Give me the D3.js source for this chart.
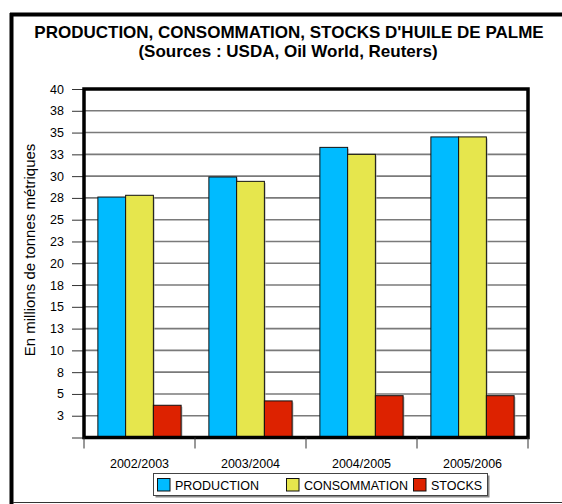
<!DOCTYPE html>
<html>
<head>
<meta charset="utf-8">
<script src="https://cdn.jsdelivr.net/npm/d3@7"></script>
<style>
  html, body { margin: 0; padding: 0; background: #fff; }
  svg { display: block; font-family: "Liberation Sans", Arial, sans-serif; }
</style>
</head>
<body>
<svg id="chart" width="562" height="504"></svg>
<script>
// Palm oil balance by campaign (million metric tonnes)
const campaigns = ["2002/2003", "2003/2004", "2004/2005", "2005/2006"];
const seriesNames = ["PRODUCTION", "CONSOMMATION", "STOCKS"];
const production = [27.6, 29.9, 33.3, 34.5];
const consommation = [27.8, 29.4, 32.5, 34.5];
const stocks = [3.7, 4.2, 4.8, 4.8];
const yTickValues = [0, 2.5, 5, 7.5, 10, 12.5, 15, 17.5, 20, 22.5, 25, 27.5, 30, 32.5, 35, 37.5, 40];
const yTickLabels = ["", "3", "5", "8", "10", "13", "15", "18", "20", "23", "25", "28", "30", "33", "35", "38", "40"];
const colors = ["#00BBFF", "#E6E64D", "#DD2200"];

const seriesValues = [production, consommation, stocks];

const svg = d3.select("#chart");
const plot = { left: 84, right: 528, top: 89, bottom: 437.5 };

// Outer frame
svg.append("line").attr("x1", 11.5).attr("x2", 11.5).attr("y1", 13).attr("y2", 504)
  .attr("stroke", "#000").attr("stroke-width", 4);
svg.append("line").attr("x1", 10).attr("x2", 562).attr("y1", 14.5).attr("y2", 14.5)
  .attr("stroke", "#000").attr("stroke-width", 4);
svg.append("line").attr("x1", 13).attr("x2", 562).attr("y1", 502.5).attr("y2", 502.5)
  .attr("stroke", "#333").attr("stroke-width", 1);

// Title
const title = svg.append("text").attr("text-anchor", "middle")
  .attr("font-weight", "bold").attr("font-size", 17).attr("fill", "#000");
title.append("tspan").attr("x", 289).attr("y", 38).text("PRODUCTION, CONSOMMATION, STOCKS D'HUILE DE PALME");
title.append("tspan").attr("x", 288).attr("y", 57).text("(Sources : USDA, Oil World, Reuters)");

// Scales
const y = d3.scaleLinear().domain([0, 40]).range([plot.bottom, plot.top]);
const x = d3.scaleBand().domain(campaigns).range([plot.left, plot.right])
  .paddingInner(0.25).paddingOuter(0.125);
const xs = d3.scaleBand().domain(seriesNames).range([0, x.bandwidth()]).padding(0);

// Gridlines
svg.append("g").selectAll("line").data(yTickValues.filter(v => v > 0 && v < 40))
  .join("line")
  .attr("x1", plot.left).attr("x2", plot.right)
  .attr("y1", d => y(d)).attr("y2", d => y(d))
  .attr("stroke", "#7a7a7a").attr("stroke-width", 1.6);

// Y axis ticks and labels
const yAxis = d3.axisLeft(y).tickValues(yTickValues).tickSize(12)
  .tickFormat((d, i) => yTickLabels[i]);
const gy = svg.append("g").attr("transform", `translate(${plot.left},0)`).call(yAxis);
gy.select(".domain").remove();
gy.selectAll(".tick line").attr("stroke", "#333").attr("stroke-width", 1);
gy.selectAll(".tick text").attr("font-size", 12.5).attr("fill", "#000")
  .attr("font-family", "Liberation Sans, Arial, sans-serif").attr("x", -20);

// Y axis title
svg.append("text")
  .attr("transform", "translate(35,250) rotate(-90)")
  .attr("text-anchor", "middle").attr("font-size", 15).attr("fill", "#000")
  .text("En millions de tonnes métriques");

// Bars
const groups = svg.append("g").selectAll("g").data(campaigns).join("g")
  .attr("transform", d => `translate(${x(d)},0)`);
groups.each(function(c, ci) {
  const g = d3.select(this);
  const rows = seriesNames.map((s, si) => ({ s, si, v: seriesValues[si][ci] }));
  // soft shadow
  g.selectAll("rect.shadow").data(rows).join("rect").attr("class", "shadow")
    .attr("x", d => xs(d.s) + 1.5).attr("y", d => y(d.v) + 1.5)
    .attr("width", xs.bandwidth()).attr("height", d => plot.bottom - y(d.v))
    .attr("fill", "#aaa").attr("opacity", 0.6);
  g.selectAll("rect.bar").data(rows).join("rect").attr("class", "bar")
    .attr("x", d => xs(d.s)).attr("y", d => y(d.v))
    .attr("width", xs.bandwidth()).attr("height", d => plot.bottom - y(d.v))
    .attr("fill", d => colors[d.si]).attr("stroke", "#111").attr("stroke-width", 1);
});

// Plot frame (thick)
svg.append("rect").attr("x", plot.left).attr("y", plot.top)
  .attr("width", plot.right - plot.left).attr("height", plot.bottom - plot.top)
  .attr("fill", "none").attr("stroke", "#000").attr("stroke-width", 3.5);

// X axis category separators and labels
const boundaries = d3.range(campaigns.length + 1).map(i => plot.left + i * x.step());
svg.append("g").selectAll("line").data(boundaries).join("line")
  .attr("x1", d => d).attr("x2", d => d)
  .attr("y1", plot.bottom).attr("y2", plot.bottom + 11)
  .attr("stroke", "#333").attr("stroke-width", 1);
svg.append("g").selectAll("text").data(campaigns).join("text")
  .attr("x", d => x(d) + x.bandwidth() / 2).attr("y", 468)
  .attr("text-anchor", "middle").attr("font-size", 12.5).attr("fill", "#000")
  .text(d => d);

// Legend
const legend = svg.append("g");
legend.append("rect").attr("x", 155.5).attr("y", 475.5).attr("width", 334).attr("height", 22)
  .attr("fill", "#888");
legend.append("rect").attr("x", 153.5).attr("y", 473.5).attr("width", 334).attr("height", 22)
  .attr("fill", "#fff").attr("stroke", "#444").attr("stroke-width", 1);
const legendX = [157, 286, 413];
const items = legend.selectAll("g").data(seriesNames).join("g")
  .attr("transform", (d, i) => `translate(${legendX[i]},478)`);
items.append("rect").attr("x", 0.5).attr("y", 0.5).attr("width", 12.5).attr("height", 12.5)
  .attr("fill", (d, i) => colors[i]).attr("stroke", "#111");
items.append("text").attr("x", 18).attr("y", 11.5).attr("font-size", 12.5).attr("fill", "#000")
  .text(d => d);
</script>
</body>
</html>
